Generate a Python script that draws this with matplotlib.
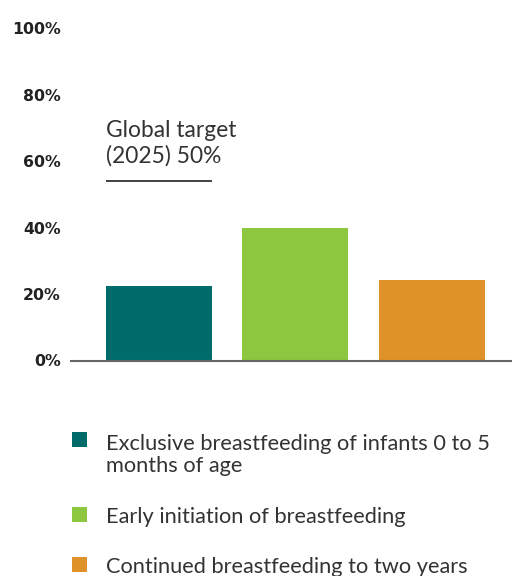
import matplotlib
matplotlib.use("Agg")
import matplotlib.pyplot as plt
from matplotlib.patches import Rectangle

categories = ["Exclusive breastfeeding of infants 0 to 5\nmonths of age",
              "Early initiation of breastfeeding",
              "Continued breastfeeding to two years"]
values = [22.4, 40.0, 24.2]
colors = ["#006b6b", "#8dc63f", "#df9228"]
yticks = [0, 20, 40, 60, 80, 100]
ytick_labels = ["0%", "20%", "40%", "60%", "80%", "100%"]
target_label = "Global target\n(2025) 50%"
target_line_y = 54  # underline position as drawn in the reference

plt.rcParams['font.family'] = ['Lato', 'DejaVu Sans']

W, H = 512, 576
fig = plt.figure(figsize=(W / 100, H / 100), dpi=100)
ax = fig.add_axes([71 / W, (H - 360.5) / H, 1 - 71 / W, (360.5 - 28.5) / H])

x = list(range(len(values)))
bw = 0.777
ax.bar(x, values, width=bw, color=colors, zorder=2)
ax.set_xlim(-0.645, 2.59)
ax.set_ylim(0, 100)
ax.set_yticks(yticks)
ax.set_yticklabels(ytick_labels, fontsize=11.3, fontweight='bold', color='#222222',
                   family='DejaVu Sans')
ax.tick_params(axis='y', length=0, pad=7.2)
ax.set_xticks([])
for s in ['top', 'right', 'left']:
    ax.spines[s].set_visible(False)
ax.spines['bottom'].set_color('#666666')
ax.spines['bottom'].set_linewidth(1.5)
ax.spines['bottom'].set_zorder(3)

# target annotation over first bar
ax.plot([x[0] - bw / 2, x[0] + bw / 2], [target_line_y, target_line_y],
        color='#333333', lw=1.3, solid_capstyle='butt')
fig.text(106 / W, (H - 163) / H, target_label, ha='left', va='baseline',
         fontsize=16.4, color='#333333', linespacing=1.25)

# legend drawn manually (square + label)
fs = 15.7
first_baselines = [448, 523, 573]
for lab, c, yb in zip(categories, colors, first_baselines):
    n = lab.count("\n")
    fig.add_artist(Rectangle((72 / W, (H - yb + 1) / H), 15 / W, 15 / H,
                             transform=fig.transFigure, facecolor=c, edgecolor='none'))
    fig.text(106 / W, (H - yb - 24 * n) / H, lab, ha='left', va='baseline', fontsize=fs,
             color='#333333', linespacing=1.1)

fig.savefig("out.png", dpi=100)
